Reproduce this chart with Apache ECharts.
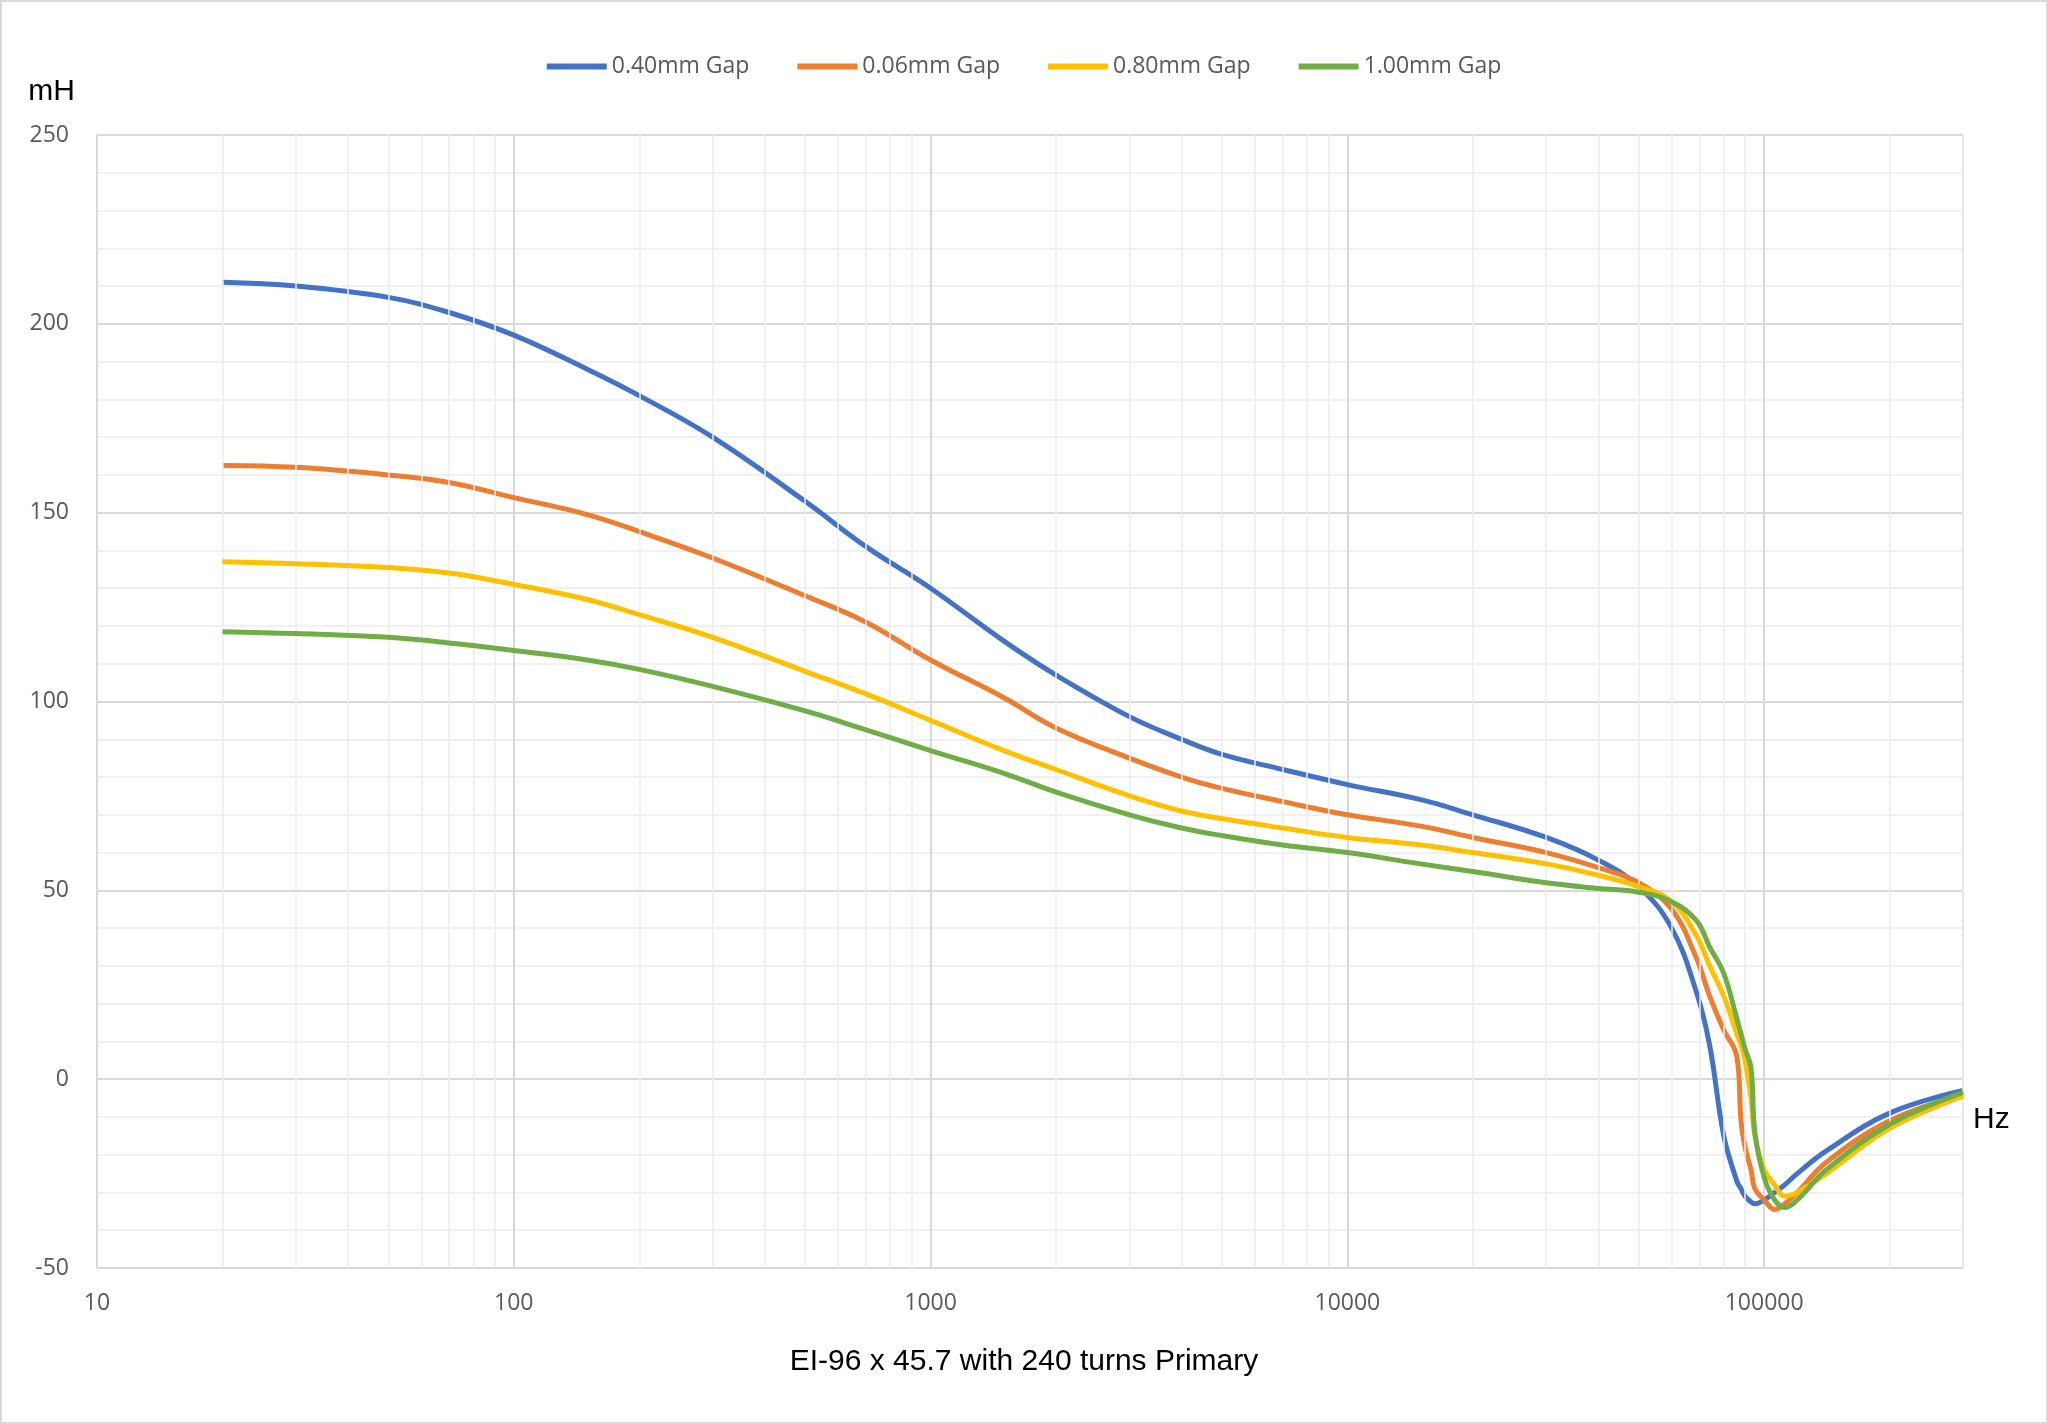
<!DOCTYPE html>
<html>
<head>
<meta charset="utf-8">
<script src="https://cdn.jsdelivr.net/npm/echarts@6/dist/echarts.min.js"></script>
<style>
  html, body { margin: 0; padding: 0; background: #fff; }
  #chart { width: 2048px; height: 1424px; box-sizing: border-box; border: 2px solid #d9d9d9; }
</style>
</head>
<body>
<div id="chart"></div>
<script>
// frequency (Hz) and inductance (mH)
var freq = [20, 30, 50, 70, 100, 150, 200, 300, 500, 700, 1000, 1500, 2000, 3000, 4000, 5000, 7000,
  10000, 15000, 20000, 30000, 40000, 50000, 60000, 68800, 74000, 80000, 86000, 88000, 90000, 93000,
  95000, 100000, 106000, 112000, 120000, 141000, 200000, 300000];

var gap040 = [211, 210, 207, 203, 197, 188, 181, 170, 153, 141, 130, 116, 107, 96, 90, 86, 82,
  78, 74, 70, 64, 58, 51, 40, 23, 9, -15, -27, -29, -31, -32.5,
  -33, -32, -30, -28, -25, -19, -9, -3];
var gap006 = [162.5, 162, 160, 158, 154, 149.5, 145, 138, 128, 121, 111, 101, 93, 85, 80, 77, 73.5,
  70, 67, 64, 60, 56, 52, 45, 32, 22, 13, 6, -11, -18, -24,
  -29, -32, -34.5, -33, -30, -22, -11, -4];
var gap080 = [137, 136.5, 135.5, 134, 131, 127, 123, 117, 108, 102, 95, 87, 82, 75, 71, 69, 66.5,
  64, 62, 60, 57, 54, 51, 47, 38, 30, 22, 12, 9, 5, -5,
  -15, -24, -28, -31, -30, -25, -13, -4.5];
var gap100 = [118.5, 118, 117, 115.5, 113.5, 111, 108.5, 104, 97.5, 92.5, 87, 81, 76, 70, 66.5, 64.5, 62,
  60, 57, 55, 52, 50.5, 49.5, 47, 42, 35, 28, 16, 12, 8, 3,
  -14, -26, -32, -34, -32, -24, -12, -3.5];

var minorX = [20, 30, 40, 50, 60, 70, 80, 90, 200, 300, 400, 500, 600, 700, 800, 900,
  2000, 3000, 4000, 5000, 6000, 7000, 8000, 9000, 20000, 30000, 40000, 50000, 60000, 70000, 80000, 90000,
  200000, 300000];

var names = ['0.40mm Gap', '0.06mm Gap', '0.80mm Gap', '1.00mm Gap'];
var colors = ['#4472c4', '#ed7d31', '#ffc000', '#70ad47'];
var values = [gap040, gap006, gap080, gap100];

function pairs(ys) {
  return freq.map(function (f, i) { return [f, ys[i]]; });
}

var series = values.map(function (ys, i) {
  return {
    name: names[i], type: 'line', data: pairs(ys), smooth: 0.4, showSymbol: false,
    lineStyle: { width: 5, color: colors[i] }, itemStyle: { color: colors[i] }, z: 3 + i
  };
});
// minor log grid lines
series.unshift({
  type: 'line', data: [], silent: true, z: 1,
  markLine: {
    symbol: 'none', silent: true, label: { show: false },
    lineStyle: { color: '#ededed', width: 1.5, type: 'solid' },
    data: minorX.map(function (x) { return { xAxis: x }; })
  }
});

var chart = echarts.init(document.getElementById('chart'));
chart.setOption({
  animation: false,
  legend: {
    data: names, top: 48, left: 'center', itemWidth: 60, itemHeight: 6, itemGap: 48,
    icon: 'rect', textStyle: { fontSize: 23, color: '#595959', fontFamily: 'Open Sans' }
  },
  title: {
    text: 'EI-96 x 45.7 with 240 turns Primary', left: 'center', bottom: 40,
    textStyle: { fontSize: 30, fontWeight: 'normal', color: '#000', fontFamily: 'Liberation Sans' }
  },
  grid: { left: 95, right: 83, top: 133, bottom: 154 },
  xAxis: {
    type: 'log', logBase: 10, min: 10, max: 300000,
    name: 'Hz', nameLocation: 'end', nameGap: 10,
    nameTextStyle: { fontSize: 30, color: '#000', verticalAlign: 'top', padding: [26, 0, 0, 0], fontFamily: 'Liberation Sans' },
    axisLine: { show: true, lineStyle: { color: '#d9d9d9', width: 2 } },
    axisTick: { show: false },
    axisLabel: { fontSize: 23, color: '#595959', margin: 24, fontFamily: 'Open Sans',
      formatter: function (v) { return v > 200000 ? '' : String(Math.round(v)); } },
    splitLine: { show: true, lineStyle: { color: '#d9d9d9', width: 2 } }
  },
  yAxis: {
    type: 'value', min: -50, max: 250, interval: 50,
    name: 'mH', nameLocation: 'end', nameGap: 28,
    nameTextStyle: { fontSize: 30, color: '#000', align: 'right', padding: [0, 22, 0, 0], fontFamily: 'Liberation Sans' },
    axisLine: { show: false }, axisTick: { show: false },
    axisLabel: { fontSize: 23, color: '#595959', margin: 28, fontFamily: 'Open Sans' },
    splitLine: { lineStyle: { color: '#d9d9d9', width: 2 } },
    minorTick: { show: false, splitNumber: 5 },
    minorSplitLine: { show: true, lineStyle: { color: '#ededed', width: 1.5 } }
  },
  series: series
});
</script>
</body>
</html>
